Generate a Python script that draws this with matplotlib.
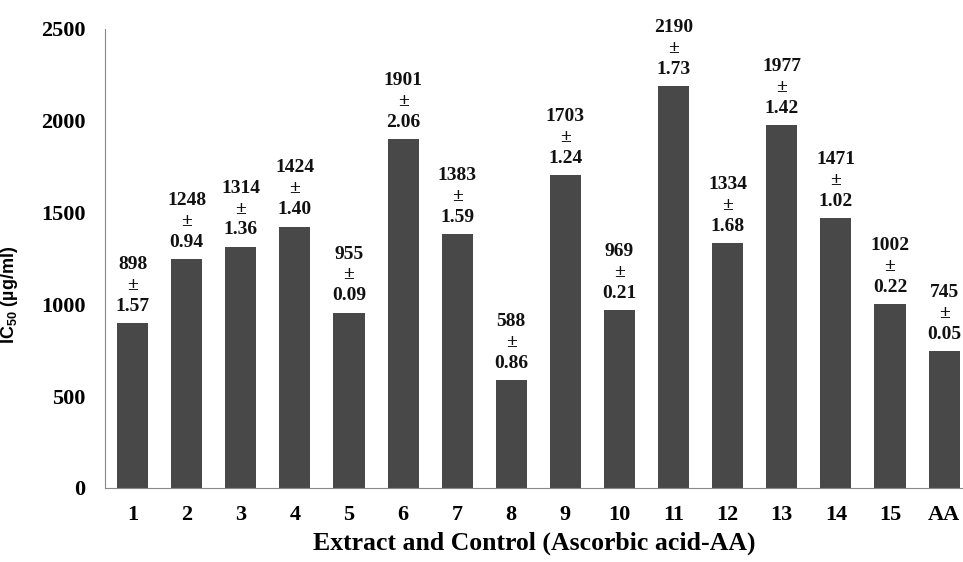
import numpy as np
import matplotlib
matplotlib.use('Agg')
from matplotlib import pyplot as plt

plt.rcParams['font.family'] = ['Liberation Serif', 'DejaVu Serif']
plt.rcParams['mathtext.fontset'] = 'custom'
plt.rcParams['mathtext.rm'] = 'Liberation Sans:bold'
plt.rcParams['mathtext.bf'] = 'Liberation Sans:bold'

# data
labels = ['1', '2', '3', '4', '5', '6', '7', '8', '9', '10',
          '11', '12', '13', '14', '15', 'AA']
ic50 = [898, 1248, 1314, 1424, 955, 1901, 1383, 588, 1703, 969,
        2190, 1334, 1977, 1471, 1002, 745]
sd = ['1.57', '0.94', '1.36', '1.40', '0.09', '2.06', '1.59', '0.86', '1.24', '0.21',
      '1.73', '1.68', '1.42', '1.02', '0.22', '0.05']

fig = plt.figure(figsize=(9.63, 5.62), dpi=100)
ax = fig.add_axes([0.109, 0.1317, 0.891, 0.8167])

x = np.arange(len(labels))
bars = ax.bar(x, ic50, width=0.575, color='#484848')

for xi, v, s in zip(x, ic50, sd):
    ax.annotate('%d\n±\n%s' % (v, s), (xi, v), xytext=(0, 6),
                textcoords='offset points', ha='center', va='bottom',
                fontsize=14, fontweight='bold', linespacing=1.3,
                color='#111111')

ax.set_xlim(-0.51, 15.35)
ax.set_ylim(0, 2500)
ax.set_yticks([0, 500, 1000, 1500, 2000, 2500])
ax.set_xticks(x)
ax.set_xticklabels(labels)

for t in ax.get_xticklabels() + ax.get_yticklabels():
    t.set_fontweight('bold')
    t.set_fontsize(16)
ax.tick_params(axis='both', length=0)
ax.tick_params(axis='y', pad=14)
ax.tick_params(axis='x', pad=12)

ax.spines['top'].set_visible(False)
ax.spines['right'].set_visible(False)
ax.spines['left'].set_color('#888888')
ax.spines['bottom'].set_color('#888888')

ax.set_xlabel('Extract and Control (Ascorbic acid-AA)', fontsize=18.5, fontweight='bold')
ax.xaxis.set_label_coords(0.5, -0.095)
ax.set_ylabel(r'IC$_{\mathbf{50}}$ (µg/ml)', fontsize=13, fontweight='bold',
              family=['Liberation Sans', 'DejaVu Sans'])
ax.yaxis.set_label_coords(-0.099, 0.42)

plt.savefig('out.png', dpi=100)
